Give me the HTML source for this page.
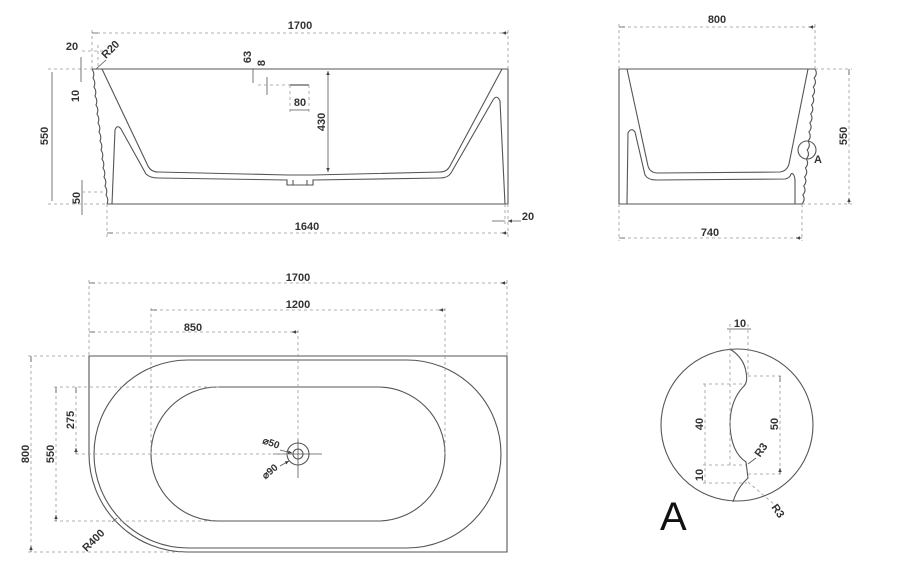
<!DOCTYPE html>
<html><head><meta charset="utf-8"><style>
html,body{margin:0;padding:0;background:#fff}
svg{display:block}
text{font-family:"Liberation Sans",sans-serif;font-size:11px;font-weight:bold;fill:#333}
.s{fill:none;stroke:#555;stroke-width:1.1}
.d{fill:none;stroke:#999;stroke-width:0.8;stroke-dasharray:3,3}
.a{fill:none;stroke:#555;stroke-width:0.8}
</style></head><body>
<svg width="900" height="577" viewBox="0 0 900 577" xmlns="http://www.w3.org/2000/svg">
<defs><marker id="ar" markerWidth="6" markerHeight="6" refX="5" refY="3" orient="auto-start-reverse"><path d="M0,0.8 L5,3 L0,5.2" fill="#444"/></marker></defs>

<!-- TOP LEFT ELEVATION -->
<line class="s" x1="92" y1="69" x2="508" y2="69"/>
<line class="s" x1="107" y1="204" x2="508" y2="204"/>
<line class="s" x1="508" y1="69" x2="508" y2="204"/>
<path class="s" d="M92,69 q3,4.5 1,9 q3,4.5 1,9 q3,4.5 1,9 q3,4.5 1,9 q3,4.5 1,9 q3,4.5 1,9 q3,4.5 1,9 q3,4.5 1,9 q3,4.5 1,9 q3,4.5 1,9 q3,4.5 1,9 q3,4.5 1,9 q3,4.5 1,9 q3,4.5 1,9 q3,4.5 1,9"/>
<path class="s" d="M102,69 L148,166 Q151,172 158,172 L288,175 L313,175 L440,172 Q447,172 450,166 L502,69"/>
<path class="s" d="M112,204 L115,130 Q117,124 121,129 L146,174 Q150,178 158,178 L287,180 L287,185 L313,185 L313,180 L440,178 Q448,178 451,173 L493,100 Q497,94 500,101 L505,204"/>
<line class="s" x1="293" y1="180" x2="293" y2="185"/><line class="s" x1="307" y1="180" x2="307" y2="185"/>
<!-- dims -->
<line class="d" x1="92" y1="30" x2="92" y2="69"/><line class="d" x1="508" y1="30" x2="508" y2="69"/><line class="d" x1="508" y1="204" x2="508" y2="237"/>
<line class="d" x1="97" y1="33" x2="503" y2="33"/><path class="a" d="M92,33h6M508,33h-6" marker-end="url(#ar)"/>
<text x="300" y="29" text-anchor="middle">1700</text>
<line class="d" x1="82" y1="51" x2="108" y2="51"/><text x="72" y="50" text-anchor="middle">20</text>
<line class="d" x1="98" y1="45" x2="98" y2="69"/>
<text transform="translate(113,52) rotate(-45)" text-anchor="middle">R20</text>
<line class="a" x1="96" y1="69" x2="106" y2="60"/>
<line class="d" x1="48" y1="69" x2="92" y2="69"/><line class="d" x1="48" y1="204" x2="107" y2="204"/>
<line class="a" x1="52" y1="72" x2="52" y2="201"/><text transform="translate(48,136) rotate(-90)" text-anchor="middle">550</text>
<line class="a" x1="81" y1="57" x2="81" y2="82"/><text transform="translate(79,96) rotate(-90)" text-anchor="middle">10</text>
<line class="a" x1="82" y1="180" x2="82" y2="215"/><line class="d" x1="82" y1="192" x2="104" y2="192"/>
<text transform="translate(80,198) rotate(-90)" text-anchor="middle">50</text>
<line class="a" x1="253" y1="69" x2="253" y2="83"/><text transform="translate(251,57) rotate(-90)" text-anchor="middle">63</text>
<line class="a" x1="267" y1="77" x2="267" y2="95"/><text transform="translate(265,63) rotate(-90)" text-anchor="middle">8</text>
<line class="d" x1="258" y1="85" x2="292" y2="85"/><line x1="290" y1="85" x2="309" y2="85" stroke="#777" stroke-width="1.6"/>
<line class="d" x1="290" y1="85" x2="290" y2="112"/><line class="d" x1="309" y1="85" x2="309" y2="112"/>
<line class="a" x1="290" y1="110" x2="309" y2="110"/><text x="300" y="106" text-anchor="middle">80</text>
<line class="a" x1="328" y1="71" x2="328" y2="172" marker-start="url(#ar)" marker-end="url(#ar)"/>
<text transform="translate(325,122) rotate(-90)" text-anchor="middle">430</text>
<line class="d" x1="107" y1="204" x2="107" y2="237"/>
<line class="d" x1="110" y1="233" x2="505" y2="233"/><path class="a" d="M107,233h6M508,233h-6" marker-end="url(#ar)"/>
<text x="307" y="230" text-anchor="middle">1640</text>
<line class="d" x1="505" y1="204" x2="505" y2="224"/>
<path class="a" d="M492,221h13M521,221h-13" marker-end="url(#ar)"/>
<text x="528" y="220" text-anchor="middle">20</text>

<!-- SIDE VIEW -->
<line class="s" x1="619" y1="69" x2="815" y2="69"/>
<line class="s" x1="619" y1="204" x2="802" y2="204"/>
<line class="s" x1="619" y1="69" x2="619" y2="204"/>
<path class="s" d="M815,69 q3,4.5 -0.87,9 q3,4.5 -0.87,9 q3,4.5 -0.87,9 q3,4.5 -0.87,9 q3,4.5 -0.87,9 q3,4.5 -0.87,9 q3,4.5 -0.87,9 q3,4.5 -0.87,9 q3,4.5 -0.87,9 q3,4.5 -0.87,9 q3,4.5 -0.87,9 q3,4.5 -0.87,9 q3,4.5 -0.87,9 q3,4.5 -0.87,9 q3,4.5 -0.87,9"/>
<path class="s" d="M627,69 L648,166 Q650,173 658,173 L780,172 Q787,171 789,164 L808,69"/>
<path class="s" d="M627,204 L628,133 Q631,127 635,132 L645,175 Q648,180 656,180 L785,179 Q790,178 791,174 Q794,172 795,180 L795,204"/>
<circle class="s" cx="807" cy="150" r="9"/><text x="818" y="163" text-anchor="middle">A</text>
<line class="d" x1="619" y1="24" x2="619" y2="69"/><line class="d" x1="815" y1="24" x2="815" y2="69"/>
<line class="d" x1="622" y1="27" x2="812" y2="27"/><path class="a" d="M619,27h6M815,27h-6" marker-end="url(#ar)"/>
<text x="717" y="23" text-anchor="middle">800</text>
<line class="d" x1="815" y1="69" x2="852" y2="69"/><line class="d" x1="802" y1="204" x2="852" y2="204"/>
<line class="d" x1="849" y1="72" x2="849" y2="201"/><path class="a" d="M849,69v6M849,204v-6" marker-end="url(#ar)"/>
<text transform="translate(847,136) rotate(-90)" text-anchor="middle">550</text>
<line class="d" x1="619" y1="204" x2="619" y2="241"/><line class="d" x1="802" y1="204" x2="802" y2="241"/>
<line class="d" x1="622" y1="238" x2="799" y2="238"/><path class="a" d="M619,238h6M802,238h-6" marker-end="url(#ar)"/>
<text x="710" y="236" text-anchor="middle">740</text>

<!-- PLAN VIEW -->
<path class="s" d="M89,356 L507,356 L507,552 L187,552 A98,98 0 0 1 89,454 Z"/>
<path class="s" d="M188,360 L407,360 A94,94 0 0 1 407,548 L188,548 A94,94 0 0 1 188,360 Z"/>
<path class="s" d="M218,387 L378,387 A67,67 0 0 1 378,521 L218,521 A67,67 0 0 1 218,387 Z"/>
<circle class="s" cx="298" cy="454" r="11"/><circle class="s" cx="298" cy="454" r="5"/>
<line class="a" x1="273" y1="454" x2="322" y2="454"/><line class="a" x1="298" y1="438" x2="298" y2="478"/>
<line class="d" x1="89" y1="280" x2="89" y2="356"/><line class="d" x1="507" y1="280" x2="507" y2="356"/>
<line class="d" x1="92" y1="283" x2="504" y2="283"/><path class="a" d="M89,283h6M507,283h-6" marker-end="url(#ar)"/>
<text x="298" y="281" text-anchor="middle">1700</text>
<line class="d" x1="151" y1="308" x2="151" y2="454"/><line class="d" x1="445" y1="308" x2="445" y2="454"/>
<line class="d" x1="154" y1="310" x2="442" y2="310"/><path class="a" d="M151,310h6M445,310h-6" marker-end="url(#ar)"/>
<text x="298" y="308" text-anchor="middle">1200</text>
<line class="d" x1="298" y1="330" x2="298" y2="440"/>
<line class="d" x1="92" y1="332" x2="295" y2="332"/><path class="a" d="M89,332h6M298,332h-6" marker-end="url(#ar)"/>
<text x="193" y="331" text-anchor="middle">850</text>
<line class="d" x1="28" y1="356" x2="89" y2="356"/><line class="d" x1="28" y1="552" x2="180" y2="552"/>
<line class="d" x1="31" y1="359" x2="31" y2="549"/><path class="a" d="M31,356v6M31,552v-6" marker-end="url(#ar)"/>
<text transform="translate(29,454) rotate(-90)" text-anchor="middle">800</text>
<line class="d" x1="54" y1="387" x2="220" y2="387"/><line class="d" x1="54" y1="521" x2="215" y2="521"/>
<line class="d" x1="56" y1="390" x2="56" y2="518"/><path class="a" d="M56,387v6M56,521v-6" marker-end="url(#ar)"/>
<text transform="translate(54,454) rotate(-90)" text-anchor="middle">550</text>
<line class="d" x1="76" y1="390" x2="76" y2="451"/><path class="a" d="M76,387v6M76,454v-6" marker-end="url(#ar)"/>
<line class="d" x1="76" y1="454" x2="290" y2="454"/>
<text transform="translate(74,420) rotate(-90)" text-anchor="middle">275</text>
<text transform="translate(96,543) rotate(-45)" text-anchor="middle">R400</text>
<line class="a" x1="112" y1="522" x2="117" y2="518"/>
<text transform="translate(270,446) rotate(20)" text-anchor="middle" style="font-size:10px">⌀50</text>
<line class="a" x1="280" y1="450" x2="292" y2="453" marker-end="url(#ar)"/>
<text transform="translate(272,474) rotate(-40)" text-anchor="middle" style="font-size:10px">⌀90</text>
<line class="a" x1="280" y1="466" x2="289" y2="461" marker-end="url(#ar)"/>

<!-- DETAIL A -->
<circle class="s" cx="737" cy="425" r="76"/>
<path class="s" d="M730,349 Q744,358 746,372 Q748,382 744,386 Q730,400 730,425 Q731,452 746,462 L748,478 Q737,488 733,502"/>
<line class="d" x1="730" y1="324" x2="730" y2="466"/><line class="d" x1="748" y1="324" x2="748" y2="376"/>
<line class="a" x1="727" y1="329" x2="751" y2="329"/><text x="740" y="327" text-anchor="middle">10</text>
<line class="d" x1="748" y1="376" x2="782" y2="376"/><line class="d" x1="748" y1="474" x2="782" y2="474"/>
<line class="d" x1="780" y1="379" x2="780" y2="471"/><path class="a" d="M780,376v6M780,474v-6" marker-end="url(#ar)"/>
<text transform="translate(778,424) rotate(-90)" text-anchor="middle">50</text>
<line class="d" x1="703" y1="384" x2="744" y2="384"/><line class="d" x1="703" y1="465" x2="746" y2="465"/><line class="d" x1="703" y1="483" x2="747" y2="483"/>
<line class="d" x1="705" y1="384" x2="705" y2="483"/>
<text transform="translate(703,424) rotate(-90)" text-anchor="middle">40</text>
<text transform="translate(703,475) rotate(-90)" text-anchor="middle">10</text>
<text transform="translate(764,452) rotate(-55)" text-anchor="middle">R3</text>
<line class="a" x1="748" y1="464" x2="756" y2="458"/>
<line class="d" x1="748" y1="482" x2="775" y2="505"/>
<text transform="translate(775,513) rotate(55)" text-anchor="middle">R3</text>
<text x="660" y="530" style="font-size:40px;font-weight:normal;fill:#111">A</text>
</svg>
</body></html>
